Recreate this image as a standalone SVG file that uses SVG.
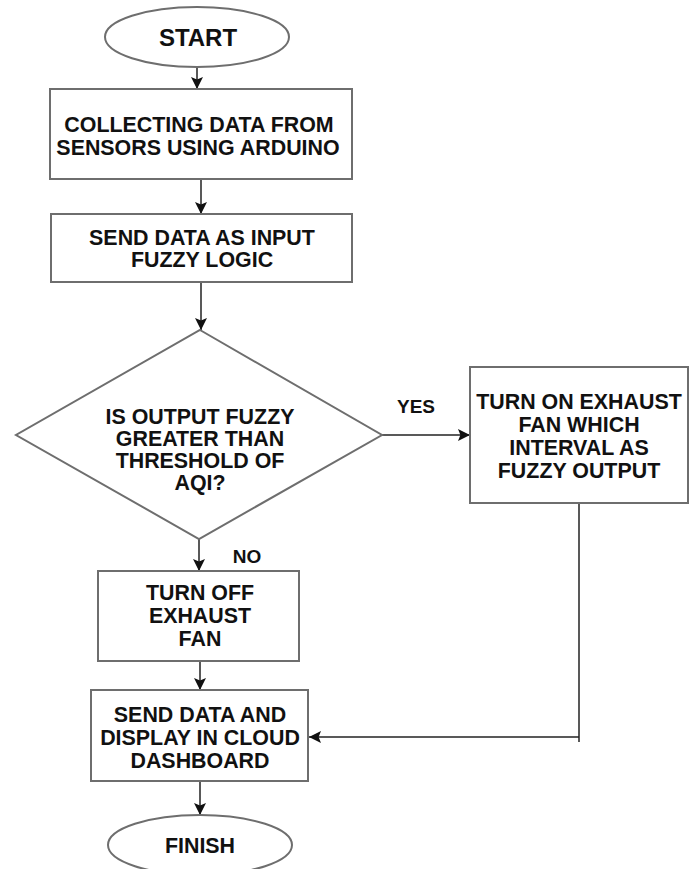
<svg xmlns="http://www.w3.org/2000/svg" width="694" height="869" viewBox="0 0 694 869">
<defs>
<marker id="ah" viewBox="0 0 10 10" refX="10" refY="5" markerWidth="12" markerHeight="12" markerUnits="userSpaceOnUse" orient="auto">
<path d="M0,0 L10,5 L0,10 L2,5 Z" fill="#111"/>
</marker>
</defs>
<style>
.shape{fill:#fff;stroke:#6e6e6e;stroke-width:2}
.t{font-family:"Liberation Sans",Arial,sans-serif;font-weight:bold;font-size:21.4px;fill:#111;text-anchor:middle}
.big{font-size:24px}
.lbl{font-size:19px}
.c{fill:none;stroke:#222;stroke-width:1.5}
</style>
<rect width="694" height="869" fill="#fff"/>
<g id="connectors">
<line class="c" x1="197" y1="67" x2="197" y2="89" marker-end="url(#ah)"/>
<line class="c" x1="201" y1="179" x2="201" y2="214" marker-end="url(#ah)"/>
<line class="c" x1="201" y1="282" x2="201" y2="330" marker-end="url(#ah)"/>
<line class="c" x1="382" y1="435" x2="470" y2="435" marker-end="url(#ah)"/>
<line class="c" x1="199" y1="539" x2="199" y2="571" marker-end="url(#ah)"/>
<line class="c" x1="200" y1="661" x2="200" y2="690" marker-end="url(#ah)"/>
<line class="c" x1="200" y1="781" x2="200" y2="815" marker-end="url(#ah)"/>
<line class="c" x1="579" y1="503" x2="579" y2="742"/>
<line class="c" x1="579" y1="737" x2="309" y2="737" marker-end="url(#ah)"/>
<text class="t lbl" x="416" y="413">YES</text>
<text class="t lbl" x="247" y="563">NO</text>
</g>
<g id="start">
<ellipse class="shape" cx="197" cy="37" rx="92" ry="30"/>
<text class="t big" x="198" y="46">START</text>
</g>
<g id="collect">
<rect class="shape" x="50" y="89" width="302" height="90"/>
<text class="t" x="199" y="132">COLLECTING DATA FROM</text>
<text class="t" x="198" y="154.5">SENSORS USING ARDUINO</text>
</g>
<g id="send-input">
<rect class="shape" x="51" y="214" width="301" height="68"/>
<text class="t" x="202" y="245">SEND DATA AS INPUT</text>
<text class="t" x="202" y="267">FUZZY LOGIC</text>
</g>
<g id="decision">
<polygon class="shape" points="200,330 382,435 199,539 16,435"/>
<text class="t" x="200" y="424">IS OUTPUT FUZZY</text>
<text class="t" x="200" y="446">GREATER THAN</text>
<text class="t" x="200" y="468">THRESHOLD OF</text>
<text class="t" x="200" y="490">AQI?</text>
</g>
<g id="turn-on">
<rect class="shape" x="470" y="367" width="218" height="136"/>
<text class="t" x="579" y="409">TURN ON EXHAUST</text>
<text class="t" x="579" y="432">FAN WHICH</text>
<text class="t" x="579" y="455">INTERVAL AS</text>
<text class="t" x="579" y="478">FUZZY OUTPUT</text>
</g>
<g id="turn-off">
<rect class="shape" x="98" y="571" width="201" height="90"/>
<text class="t" x="200" y="600">TURN OFF</text>
<text class="t" x="200" y="623">EXHAUST</text>
<text class="t" x="200" y="646">FAN</text>
</g>
<g id="send-cloud">
<rect class="shape" x="91" y="690" width="217" height="91"/>
<text class="t" x="200" y="722">SEND DATA AND</text>
<text class="t" x="200" y="745">DISPLAY IN CLOUD</text>
<text class="t" x="200" y="768">DASHBOARD</text>
</g>
<g id="finish">
<ellipse class="shape" cx="200" cy="845" rx="92" ry="30"/>
<text class="t" x="200" y="853">FINISH</text>
</g>
</svg>
